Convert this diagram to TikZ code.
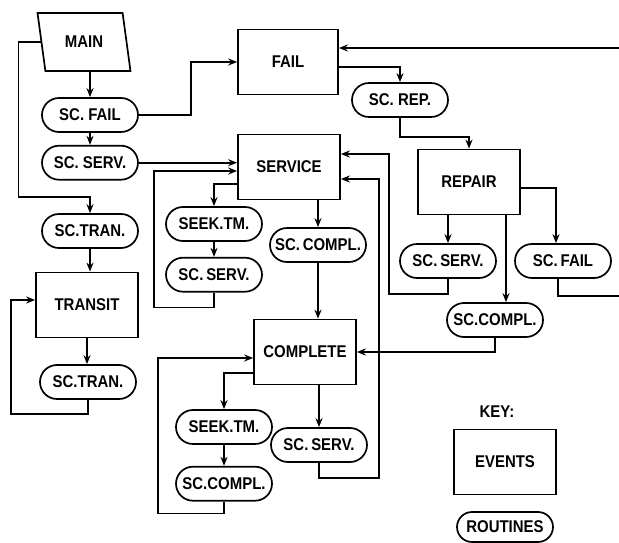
\documentclass[tikz,border=0pt]{standalone}
\usepackage{fontspec}
\setmainfont{Liberation Sans}[FakeStretch=0.88]
\usepackage{tikz}
\usetikzlibrary{shapes.geometric, shapes.misc, arrows.meta, positioning, calc}
\tikzset{
  event/.style={rectangle, draw, minimum width=102pt, minimum height=65pt,
    inner sep=2pt, line width=1.7pt},
  routine/.style={rounded rectangle, draw, minimum width=102pt, minimum height=34pt,
    inner xsep=3pt, inner ysep=2pt, line width=1.7pt},
  mainbox/.style={trapezium, trapezium left angle=104, trapezium right angle=76,
    trapezium stretches=true, draw, minimum width=93pt, minimum height=58pt,
    line width=1.7pt},
  arrow/.style={-{Stealth[length=9pt, width=7pt]}, line width=1.7pt},
  line/.style={line width=1.7pt}
}

\begin{document}
\begin{tikzpicture}[x=1pt, y=-1pt, font=\fontsize{17}{19}\selectfont\bfseries]
  \useasboundingbox (0,0) rectangle (619,543);

  % main program
  \node[mainbox] (main) at (84,42) {MAIN};
  \node[routine] (scfail) at (90,115) {SC. FAIL};
  \node[routine, below=12pt of scfail] (scserv) {SC. SERV.};
  \node[routine] (sctran) at (90,231) {SC.TRAN.};
  \node[event] (transit) at (87,305) {TRANSIT};
  \node[routine] (sctranb) at (88,382) {SC.TRAN.};

  % events
  \node[event, minimum width=100pt] (fail) at (288,62) {FAIL};
  \node[event] (service) at (289,167) {SERVICE};
  \node[event] (repair) at (469,182) {REPAIR};
  \node[event] (complete) at (305,352) {COMPLETE};

  % routines
  \node[routine] (screp) at (400,100) {SC. REP.};
  \node[routine] (seeks) at (214,224) {SEEK.TM.};
  \node[routine, below=15pt of seeks] (scservs) {SC.\,SERV.};
  \node[routine] (sccompls) at (318,245) {SC.\,COMPL.};
  \node[routine] (scservr) at (448,261) {SC.\,SERV.};
  \node[routine] (scfailr) at (563,261) {SC.\,FAIL};
  \node[routine] (sccomplr) at (495,320) {SC.COMPL.};
  \node[routine] (seekc) at (224,427) {SEEK.TM.};
  \node[routine, below=21pt of seekc] (sccomplc) {SC.COMPL.};
  \node[routine] (scservc) at (319,445) {SC.\,SERV.};

  % key
  \node (key) at (497,412) {KEY:};
  \node[event] (keyev) at (505,462) {EVENTS};
  \node[routine, minimum height=30pt] (keyrt) at (505,527) {ROUTINES};

  \coordinate (infail) at (619,48);
  \coordinate (outfail) at (619,296);

  % main
  \draw[arrow] (scfail.north |- main.south) -- (scfail.north);
  \draw[arrow] (scfail) -- (scserv);
  \draw[arrow] (scfail.east) -- ++(52,0) |- (fail.west);
  \draw[arrow] (scserv.east) -- (scserv.east -| service.west);
  \draw[arrow] (main.west) -- ++(-22,0) |- ([yshift=16pt]sctran.north) -- (sctran.north);
  \draw[arrow] (sctran) -- (sctran |- transit.north);
  \draw[arrow] (transit) -- (transit |- sctranb.north);
  \draw[arrow] (sctranb.south) -- ++(0,14) -| ([xshift=-24pt, yshift=5pt]transit.west)
    -- ([yshift=5pt]transit.west);

  % fail and repair
  \draw[arrow] ([yshift=-5pt]fail.east) -| (screp.north);
  \draw[arrow] (infail) -- (infail -| fail.east);
  \draw[arrow] (screp.south) -- ++(0,19) -| (repair.north);
  \draw[arrow] (scservr.north |- repair.south) -- (scservr.north);
  \draw[arrow] ([yshift=-6pt]repair.east) -| ([xshift=-7pt]scfailr.north);
  \draw[arrow] ([xshift=11pt]sccomplr.north |- repair.south) -- ([xshift=11pt]sccomplr.north);
  \draw[arrow] (scservr.south) -- ++(0,15) -| ([xshift=48pt, yshift=13pt]service.east)
    -- ([yshift=13pt]service.east);
  \draw[line] ([xshift=-5pt]scfailr.south) |- (outfail);
  \draw[arrow] (sccomplr.south) |- (complete.east);

  % service
  \draw[arrow] ([yshift=-17pt]service.west) -| (seeks.north);
  \draw[arrow] (seeks) -- (scservs);
  \draw[arrow] (scservs.south) -- ++(0,15) -| ([xshift=-83pt, yshift=-4pt]service.west)
    -- ([yshift=-4pt]service.west);
  \draw[arrow] (sccompls.north |- service.south) -- (sccompls.north);
  \draw[arrow] (sccompls.south) -- (sccompls.south |- complete.north);

  % complete
  \draw[arrow] ([yshift=-21pt]complete.west) -| (seekc.north);
  \draw[arrow] (seekc) -- (sccomplc);
  \draw[arrow] (sccomplc.south) -- ++(0,12) -| ([xshift=-95pt, yshift=-6pt]complete.west)
    -- ([yshift=-6pt]complete.west);
  \draw[arrow] (scservc.north |- complete.south) -- (scservc.north);
  \draw[arrow] (scservc.south) -- ++(0,15) -| ([xshift=38pt, yshift=-12pt]service.east)
    -- ([yshift=-12pt]service.east);
\end{tikzpicture}
\end{document}
